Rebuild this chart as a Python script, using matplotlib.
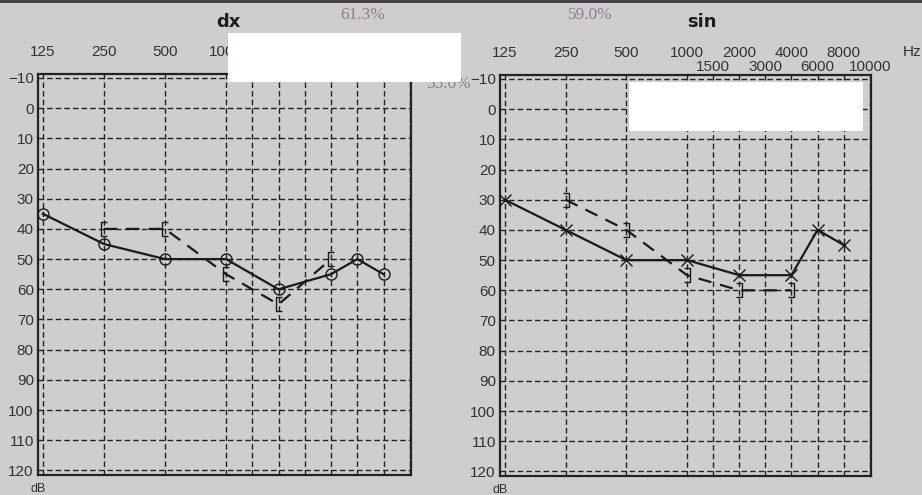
import numpy as np
import matplotlib.pyplot as plt
from matplotlib.path import Path
from matplotlib.patches import Rectangle
from matplotlib.lines import Line2D

# audiogram frequencies (Hz) on the chart's stepped axis
freqs = [125, 250, 500, 1000, 1500, 2000, 3000, 4000, 6000, 8000, 10000]
top_row = [125, 250, 500, 1000, 2000, 4000, 8000]
bottom_row = [1500, 3000, 6000, 10000]
db_ticks = list(range(-10, 121, 10))

# dx (right ear)
dx_air_f = [125, 250, 500, 1000, 2000, 4000, 6000, 8000]
dx_air_db = [35, 45, 50, 50, 60, 55, 50, 55]
dx_bone_f = [250, 500, 1000, 2000, 4000]
dx_bone_db = [40, 40, 55, 65, 50]

# sin (left ear)
sin_air_f = [125, 250, 500, 1000, 2000, 4000, 6000, 8000]
sin_air_db = [30, 40, 50, 50, 55, 55, 40, 45]
sin_bone_f = [250, 500, 1000, 2000, 4000]
sin_bone_db = [30, 40, 55, 60, 60]


def fpos(f):
    # octave steps up to 1000 Hz, narrower steps above
    i = freqs.index(f)
    return float(i) if i <= 3 else 3 + (i - 3) * 0.43


W, H = 922, 495
bg = '#d0cdd0'
font = 'Liberation Sans'

fig = plt.figure(figsize=(W / 100, H / 100), dpi=100, facecolor=bg)

bracket_l = Path([(0.45, -1), (-0.45, -1), (-0.45, 1), (0.45, 1)],
                 [Path.MOVETO, Path.LINETO, Path.LINETO, Path.LINETO])
bracket_r = Path([(-0.45, -1), (0.45, -1), (0.45, 1), (-0.45, 1)],
                 [Path.MOVETO, Path.LINETO, Path.LINETO, Path.LINETO])


def audiogram(rect, title, title_x):
    ax = fig.add_axes(rect, facecolor=bg)
    ax.set_xlim(-0.08, 6.03)
    ax.set_ylim(121.5, -11.3)
    for d in db_ticks:
        ax.axhline(d, color='#222222', lw=1.0, ls=(0, (4, 2.2)), zorder=1)
    for f in freqs:
        ax.axvline(fpos(f), color='#222222', lw=1.0, ls=(0, (4, 2.2)), zorder=1)
    ax.set_xticks([])
    ax.set_yticks(db_ticks)
    ax.set_yticklabels([str(d).replace('-', '\u2212') for d in db_ticks],
                       family=font, fontsize=11, color='#333333')
    ax.tick_params(axis='y', length=0, pad=3)
    for s in ax.spines.values():
        s.set_linewidth(1.6)
        s.set_color('#222222')
    for f in top_row:
        ax.annotate(str(f), (fpos(f), 1), xycoords=('data', 'axes fraction'),
                    xytext=(0, 16), textcoords='offset points', ha='center',
                    va='center', family=font, fontsize=11, color='#333333',
                    annotation_clip=False)
    for f in bottom_row:
        ax.annotate(str(f), (fpos(f), 1), xycoords=('data', 'axes fraction'),
                    xytext=(0, 6), textcoords='offset points', ha='center',
                    va='center', family=font, fontsize=11, color='#333333',
                    annotation_clip=False)
    ax.annotate('dB', (0, 0), xycoords='axes fraction', xytext=(0, -10),
                textcoords='offset points', ha='center', va='center',
                family=font, fontsize=9, color='#333333', annotation_clip=False)
    fig.text(title_x / W, 1 - 22 / H, title, ha='center', va='center',
             fontsize=13, fontweight='bold', color='#1e1e1e')
    return ax


axL = audiogram([38 / W, 1 - 475 / H, 373 / W, 401 / H], 'dx', 228)
axR = audiogram([500 / W, 1 - 476 / H, 371 / W, 401 / H], 'sin', 702)

axL.plot([fpos(f) for f in dx_air_f], dx_air_db, color='#1a1a1a', lw=1.6,
         marker='o', ms=8, mfc='none', mec='#1a1a1a', mew=1.0, zorder=3)
axL.plot([fpos(f) for f in dx_bone_f], dx_bone_db, color='#1a1a1a', lw=1.6,
         ls=(0, (6, 4)), marker=bracket_l, ms=10, mfc='none', mec='#1a1a1a',
         mew=1.0, zorder=3)

axR.plot([fpos(f) for f in sin_air_f], sin_air_db, color='#1a1a1a', lw=1.6,
         marker='x', ms=8, mec='#1a1a1a', mew=1.0, zorder=3)
axR.plot([fpos(f) for f in sin_bone_f], sin_bone_db, color='#1a1a1a', lw=1.6,
         ls=(0, (6, 4)), marker=bracket_r, ms=10, mfc='none', mec='#1a1a1a',
         mew=1.0, zorder=3)

fig.text(912 / W, 1 - 52 / H, 'Hz', ha='center', va='center', family=font,
         fontsize=11, color='#333333')

# scores printed in grey
for txt, x, y in [('61.3%', 363, 15), ('59.0%', 590, 15), ('55.0%', 449, 84)]:
    fig.text(x / W, 1 - y / H, txt, ha='center', va='center',
             family='Liberation Serif', fontsize=12.5, color='#878287')

# frame line at the top of the sheet
fig.add_artist(Line2D([0, 1], [1 - 1 / H, 1 - 1 / H], transform=fig.transFigure,
                      color='#3a3a3a', lw=2))

# blanked-out areas
for x0, y0, x1, y1 in [(228, 33, 461, 82), (629, 82, 863, 131)]:
    fig.add_artist(Rectangle((x0 / W, 1 - y1 / H), (x1 - x0) / W, (y1 - y0) / H,
                             transform=fig.transFigure, facecolor='white',
                             edgecolor='none', zorder=10))

fig.savefig('out.png', dpi=100, facecolor=bg)
